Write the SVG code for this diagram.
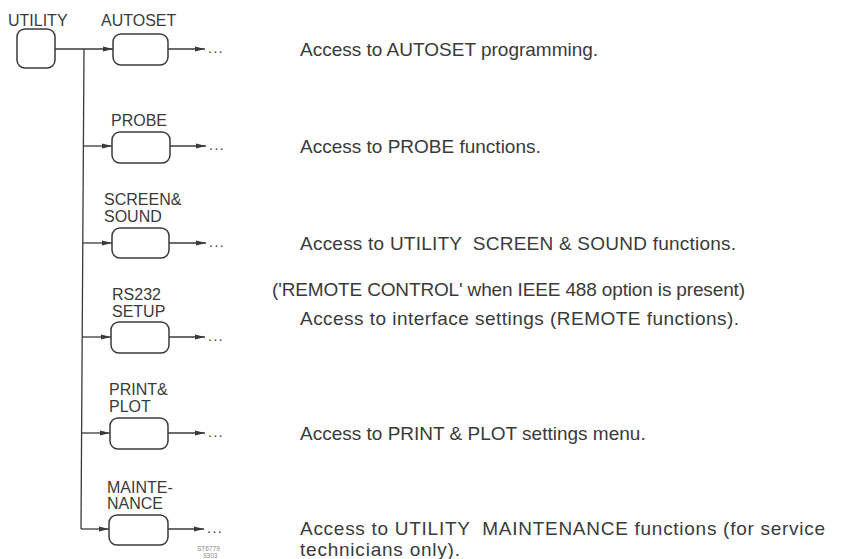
<svg xmlns="http://www.w3.org/2000/svg" width="850" height="559" viewBox="0 0 850 559">
<style>
text{font-family:"Liberation Sans",Arial,Helvetica,sans-serif;fill:#3a3a3a}
.lbl{font-size:16px}
.desc{font-size:19px;white-space:pre}
.box{fill:#fff;stroke:#3a3a3a;stroke-width:1.5}
.wire{fill:none;stroke:#3a3a3a;stroke-width:1.3}
.out{fill:none;stroke:#3a3a3a;stroke-width:1.3;marker-end:url(#ah)}
.dots{font-size:14px;letter-spacing:1.5px}
.code{font-size:6.5px;fill:#8a8a8a}
</style>
<defs>
<marker id="ah" markerWidth="10" markerHeight="6" refX="10" refY="3" orient="auto" markerUnits="userSpaceOnUse">
<path d="M0,0.6 L10,3 L0,5.4 z" fill="#3a3a3a"/>
</marker>
</defs>
<g id="connectors">
<path class="out" d="M55,49 H113"/>
<path class="wire" d="M84,49 L81,529"/>
<path class="out" d="M83.4,146 H112"/>
<path class="out" d="M82.8,243 H112"/>
<path class="out" d="M82.2,337 H111"/>
<path class="out" d="M81.6,433 H110"/>
<path class="out" d="M81,529 H109"/>
<path class="out" d="M168,49 H205"/>
<path class="out" d="M170,146 H206"/>
<path class="out" d="M169,243 H206"/>
<path class="out" d="M169,337 H205"/>
<path class="out" d="M168,433 H205"/>
<path class="out" d="M168,529 H204"/>
<text class="dots" x="208" y="53">...</text>
<text class="dots" x="209" y="150">...</text>
<text class="dots" x="209" y="247">...</text>
<text class="dots" x="208" y="341">...</text>
<text class="dots" x="208" y="437">...</text>
<text class="dots" x="207" y="533">...</text>
</g>
<g id="utility">
<text class="lbl" x="8" y="26">UTILITY</text>
<rect class="box" x="17" y="29" width="38" height="39" rx="8"/>
</g>
<g id="autoset">
<text class="lbl" x="101" y="26">AUTOSET</text>
<rect class="box" x="113" y="34" width="55" height="31" rx="8"/>
<text class="desc" x="300" y="56">Access to AUTOSET programming.</text>
</g>
<g id="probe">
<text class="lbl" x="111" y="126">PROBE</text>
<rect class="box" x="112" y="132" width="58" height="31" rx="8"/>
<text class="desc" x="300" y="153">Access to PROBE functions.</text>
</g>
<g id="screen-sound">
<text class="lbl" x="104" y="205">SCREEN&amp;</text>
<text class="lbl" x="104" y="222">SOUND</text>
<rect class="box" x="112" y="228" width="57" height="30" rx="8"/>
<text class="desc" x="300" y="250" textLength="436">Access to UTILITY  SCREEN &amp; SOUND functions.</text>
</g>
<g id="rs232-setup">
<text class="lbl" x="112" y="300">RS232</text>
<text class="lbl" x="112" y="317">SETUP</text>
<rect class="box" x="111" y="322" width="58" height="31" rx="8"/>
<text class="desc" x="272" y="296" textLength="473">('REMOTE CONTROL' when IEEE 488 option is present)</text>
<text class="desc" x="300" y="325" textLength="439">Access to interface settings (REMOTE functions).</text>
</g>
<g id="print-plot">
<text class="lbl" x="109" y="395">PRINT&amp;</text>
<text class="lbl" x="109" y="412">PLOT</text>
<rect class="box" x="110" y="418" width="58" height="31" rx="8"/>
<text class="desc" x="300" y="440">Access to PRINT &amp; PLOT settings menu.</text>
</g>
<g id="maintenance">
<text class="lbl" x="107" y="493">MAINTE-</text>
<text class="lbl" x="107" y="509">NANCE</text>
<rect class="box" x="109" y="515" width="59" height="30" rx="8"/>
<text class="desc" x="300" y="535" textLength="525">Access to UTILITY  MAINTENANCE functions (for service</text>
<text class="desc" x="300" y="556" textLength="160">technicians only).</text>
</g>
<g id="code">
<text class="code" x="197" y="551">ST6779</text>
<text class="code" x="203" y="558">9303</text>
</g>
</svg>
